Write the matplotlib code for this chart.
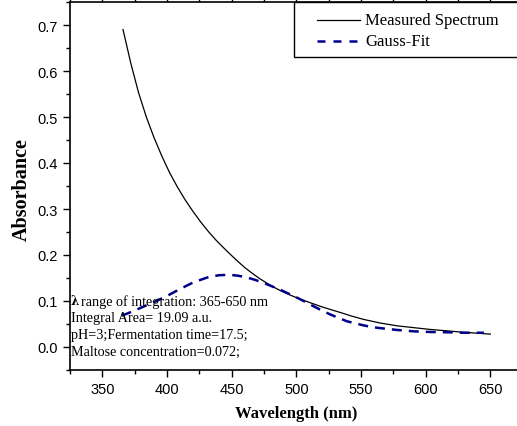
import matplotlib
matplotlib.use("Agg")
import matplotlib.pyplot as plt
from matplotlib.ticker import MultipleLocator
from matplotlib.patches import Rectangle
from matplotlib.lines import Line2D

# Data
meas_nm = [366, 372, 378, 384, 390, 396, 402, 408, 414, 420, 426, 432, 438, 444,
           448, 454, 460, 466, 472, 480, 488, 496, 503, 511, 519, 527, 534, 543,
           552, 565, 578, 591, 604, 617, 629, 640, 650]
meas_abs = [0.690, 0.617, 0.553, 0.500, 0.455, 0.415, 0.379, 0.348, 0.320, 0.295,
            0.272, 0.251, 0.232, 0.215, 0.204, 0.188, 0.173, 0.160, 0.148, 0.134,
            0.122, 0.112, 0.104, 0.096, 0.088, 0.081, 0.075, 0.067, 0.060, 0.052,
            0.046, 0.042, 0.038, 0.035, 0.032, 0.030, 0.028]
gauss_nm = [365, 373, 382, 391, 400, 410, 420, 431, 440, 448, 455, 462, 468, 475,
            481, 488, 494, 500, 507, 513, 520, 526, 533, 539, 546, 552, 559, 565,
            578, 591, 604, 617, 629, 645]
gauss_abs = [0.068, 0.077, 0.088, 0.099, 0.111, 0.126, 0.140, 0.151, 0.156, 0.157,
             0.155, 0.151, 0.146, 0.139, 0.132, 0.124, 0.116, 0.108, 0.098, 0.089,
             0.079, 0.071, 0.063, 0.056, 0.051, 0.047, 0.043, 0.041, 0.037, 0.034,
             0.0326, 0.032, 0.031, 0.031]
x_ticks = [350, 400, 450, 500, 550, 600, 650]
y_ticks = [0.0, 0.1, 0.2, 0.3, 0.4, 0.5, 0.6, 0.7]
legend_labels = ["Measured Spectrum", "Gauss-Fit"]
note_lines = ["range of integration: 365-650 nm",
              "Integral Area= 19.09 a.u.",
              "pH=3;Fermentation time=17.5;",
              "Maltose concentration=0.072;"]

W, H = 517, 427
fig = plt.figure(figsize=(W / 100, H / 100), dpi=100)
ax = fig.add_axes([70 / W, 56 / H, 452.7 / W, 368 / H])

serif = "Liberation Serif"
sans = "Liberation Sans"
blue = "#00008B"

ax.plot(meas_nm, meas_abs, color="black", lw=0.9)
ax.plot(gauss_nm, gauss_abs, color=blue, lw=1.8, dashes=(4, 2.8))

ax.set_xlim(325, 675)
ax.set_ylim(-0.05, 0.75)
ax.set_xticks(x_ticks)
ax.set_yticks(y_ticks)
ax.set_yticklabels([f"{v:.1f}" for v in y_ticks])
ax.xaxis.set_minor_locator(MultipleLocator(25))
ax.yaxis.set_minor_locator(MultipleLocator(0.05))
ax.tick_params(which="both", direction="out", top=True, right=False,
               labelsize=10.5, width=1.0)
ax.tick_params(which="major", length=5)
ax.tick_params(which="minor", length=3)
for lab in ax.get_xticklabels() + ax.get_yticklabels():
    lab.set_fontfamily(sans)
for s in ax.spines.values():
    s.set_linewidth(1.2)

ax.set_xlabel("Wavelength (nm)", fontfamily=serif, fontweight="bold",
              fontsize=12, va="center")
ax.set_ylabel("Absorbance", fontfamily=serif, fontweight="bold",
              fontsize=14.5, va="center")
ax.xaxis.set_label_coords((296 - 70) / 452.7, -(414 - 371) / 368)
ax.yaxis.set_label_coords(-(70 - 21.5) / 452.7, (371 - 190) / 368)

# Legend box (drawn in figure pixels)
def fx(px):
    return px / W

def fy(py):
    return 1 - py / H

fig.patches.append(Rectangle((fx(294), fy(58)), fx(260), 55 / H,
                             transform=fig.transFigure, facecolor="white",
                             edgecolor="black", lw=1.0, zorder=5))
fig.lines.append(Line2D([fx(317), fx(360)], [fy(21), fy(21)], color="black",
                        lw=0.9, transform=fig.transFigure, zorder=6))
fig.lines.append(Line2D([fx(317), fx(360)], [fy(42), fy(42)], color=blue,
                        lw=1.8, dashes=(3.2, 3.2), transform=fig.transFigure,
                        zorder=6))
fig.text(fx(365), fy(21), legend_labels[0], fontfamily=serif, fontsize=12,
         va="center", ha="left", zorder=6)
fig.text(fx(365), fy(42), legend_labels[1], fontfamily=serif, fontsize=12,
         va="center", ha="left", zorder=6)

# Annotation text
y0 = 302
for i, line in enumerate(note_lines):
    yy = fy(y0 + i * 16.7)
    if i == 0:
        fig.text(fx(71), yy, "λ", fontfamily="DejaVu Serif", fontweight="bold",
                 fontsize=8.5, va="center", ha="left")
        fig.text(fx(81), yy, line, fontfamily=serif, fontsize=10.2,
                 va="center", ha="left")
    else:
        fig.text(fx(71), yy, line, fontfamily=serif, fontsize=10.2,
                 va="center", ha="left")

fig.savefig("out.png", dpi=100)
